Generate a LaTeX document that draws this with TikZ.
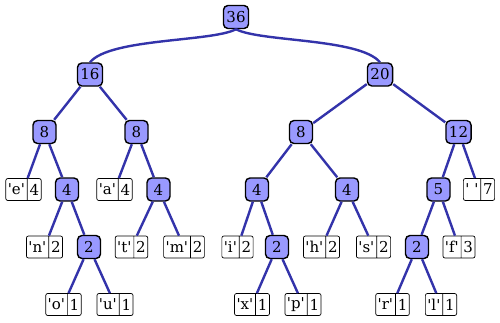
\documentclass[tikz,border=0pt]{standalone}
\usepackage{fontspec}
\newfontfamily\df{DejaVu Serif}
\usetikzlibrary{shapes.multipart}
\definecolor{innerc}{RGB}{153,153,255}
\definecolor{edgec}{RGB}{51,51,170}
\begin{document}
\begin{tikzpicture}[x=1pt,y=-1pt,
  font=\df\fontsize{15}{17}\selectfont,
  inode/.style={draw, line width=1.4pt, rounded corners=4.5pt, fill=innerc,
    minimum height=23pt, minimum width=23pt, inner sep=3pt},
  leaf/.style={draw, line width=0.7pt, rounded corners=2pt, fill=white,
    rectangle split, rectangle split horizontal, rectangle split parts=2,
    inner sep=2pt, minimum height=22pt},
  link/.style={draw=edgec, line width=2.4pt}]
\useasboundingbox (0,0) rectangle (500,322);
% internal nodes
\node[inode] (n36) at (236,17) {36};
\node[inode] (n16) at (90,74.5) {16};
\node[inode] (n20) at (380,74.5) {20};
\node[inode] (n8a) at (44.5,132) {8};
\node[inode] (n8b) at (136.5,132) {8};
\node[inode] (n8c) at (301,132) {8};
\node[inode] (n12) at (458.5,132) {12};
\node[inode] (n4a) at (67,189.5) {4};
\node[inode] (n4b) at (158.5,189.5) {4};
\node[inode] (n4c) at (257,189.5) {4};
\node[inode] (n4d) at (347,189.5) {4};
\node[inode] (n5) at (438.5,189.5) {5};
\node[inode] (n2a) at (89,247) {2};
\node[inode] (n2b) at (277,247) {2};
\node[inode] (n2c) at (417,247) {2};
% leaves
\node[leaf] (le) at (23.5,189.5) {'e'\nodepart{two}4};
\node[leaf] (la) at (114.5,189.5) {'a'\nodepart{two}4};
\node[leaf] (lsp) at (479,189.5) {'\ '\nodepart{two}7};
\node[leaf] (ln) at (44.5,247) {'n'\nodepart{two}2};
\node[leaf] (lt) at (131.5,247) {'t'\nodepart{two}2};
\node[leaf] (lm) at (184,247) {'m'\nodepart{two}2};
\node[leaf] (li) at (237.5,247) {'i'\nodepart{two}2};
\node[leaf] (lh) at (321.5,247) {'h'\nodepart{two}2};
\node[leaf] (ls) at (373.5,247) {'s'\nodepart{two}2};
\node[leaf] (lf) at (459,247) {'f'\nodepart{two}3};
\node[leaf] (lo) at (63.5,304.5) {'o'\nodepart{two}1};
\node[leaf] (lu) at (115,304.5) {'u'\nodepart{two}1};
\node[leaf] (lx) at (252,304.5) {'x'\nodepart{two}1};
\node[leaf] (lp) at (303,304.5) {'p'\nodepart{two}1};
\node[leaf] (lr) at (392.5,304.5) {'r'\nodepart{two}1};
\node[leaf] (ll) at (441,304.5) {'l'\nodepart{two}1};
% edges
\draw[link] (n36.south) .. controls (212,42) and (110,38) .. (n16.north);
\draw[link] (n36.south) .. controls (260,42) and (360,38) .. (n20.north);
\draw[link] (n16) -- (n8a);
\draw[link] (n16) -- (n8b);
\draw[link] (n20) -- (n8c);
\draw[link] (n20) -- (n12);
\draw[link] (n8a) -- (le);
\draw[link] (n8a) -- (n4a);
\draw[link] (n8b) -- (la);
\draw[link] (n8b) -- (n4b);
\draw[link] (n8c) -- (n4c);
\draw[link] (n8c) -- (n4d);
\draw[link] (n12) -- (n5);
\draw[link] (n12) -- (lsp);
\draw[link] (n4a) -- (ln);
\draw[link] (n4a) -- (n2a);
\draw[link] (n4b) -- (lt);
\draw[link] (n4b) -- (lm);
\draw[link] (n4c) -- (li);
\draw[link] (n4c) -- (n2b);
\draw[link] (n4d) -- (lh);
\draw[link] (n4d) -- (ls);
\draw[link] (n5) -- (n2c);
\draw[link] (n5) -- (lf);
\draw[link] (n2a) -- (lo);
\draw[link] (n2a) -- (lu);
\draw[link] (n2b) -- (lx);
\draw[link] (n2b) -- (lp);
\draw[link] (n2c) -- (lr);
\draw[link] (n2c) -- (ll);
\end{tikzpicture}
\end{document}
